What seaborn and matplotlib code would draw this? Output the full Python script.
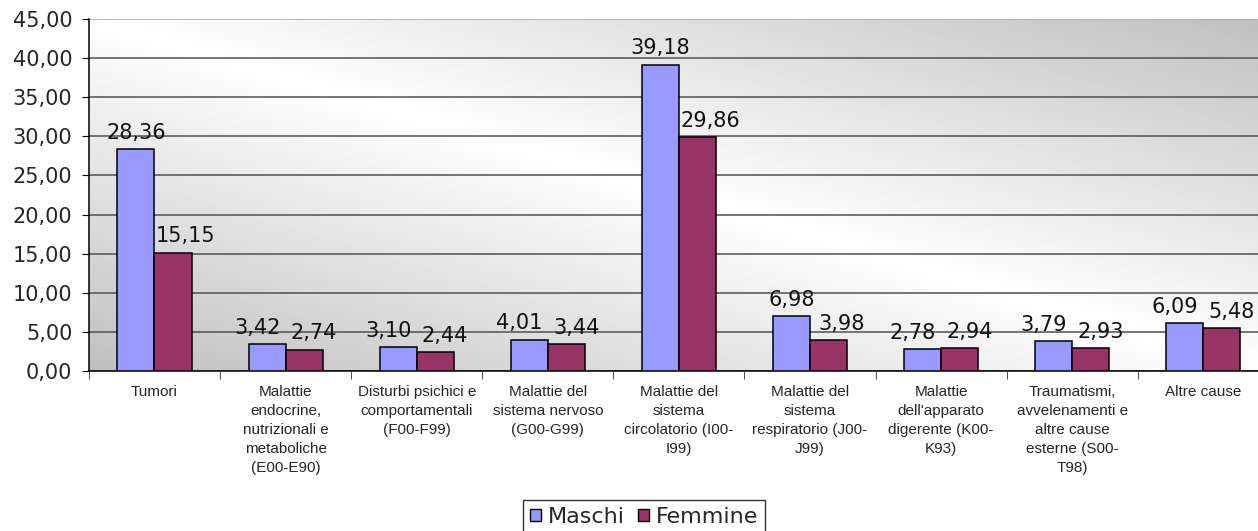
import matplotlib
matplotlib.use("Agg")
import matplotlib.pyplot as plt
import numpy as np
import pandas as pd
import seaborn as sns
from matplotlib.patches import Patch
from matplotlib.ticker import FuncFormatter, FixedLocator

# data
categories = [
    "Tumori",
    "Malattie\nendocrine,\nnutrizionali e\nmetaboliche\n(E00-E90)",
    "Disturbi psichici e\ncomportamentali\n(F00-F99)",
    "Malattie del\nsistema nervoso\n(G00-G99)",
    "Malattie del\nsistema\ncircolatorio (I00-\nI99)",
    "Malattie del\nsistema\nrespiratorio (J00-\nJ99)",
    "Malattie\ndell'apparato\ndigerente (K00-\nK93)",
    "Traumatismi,\navvelenamenti e\naltre cause\nesterne (S00-\nT98)",
    "Altre cause",
]
maschi = [28.36, 3.42, 3.10, 4.01, 39.18, 6.98, 2.78, 3.79, 6.09]
femmine = [15.15, 2.74, 2.44, 3.44, 29.86, 3.98, 2.94, 2.93, 5.48]
series = ["Maschi", "Femmine"]
colors = ["#9999FF", "#993366"]

df = pd.DataFrame({
    "causa": categories * 2,
    "sesso": ["Maschi"] * len(categories) + ["Femmine"] * len(categories),
    "valore": maschi + femmine,
})

sns.set_style("white")
plt.rcParams["font.family"] = ["DejaVu Sans"]

fig = plt.figure(figsize=(12.58, 5.31), dpi=100)
ax = fig.add_axes([0.0707, 0.3013, 1.0087 - 0.0707, 0.9642 - 0.3013])

# grey-white-grey diagonal background
gx, gy = np.meshgrid(np.linspace(0, 1, 300), np.linspace(0, 1, 300))
s = np.abs(gx + gy - 1)
shade = 1 - 0.25 * s
ax.imshow(shade, extent=(0, 1, 0, 1), origin="lower", transform=ax.transAxes,
          cmap="gray", vmin=0, vmax=1, aspect="auto", zorder=0)

sns.barplot(data=df, x="causa", y="valore", hue="sesso", hue_order=series,
            palette=colors, width=0.565, gap=0, edgecolor="black",
            linewidth=1.1, saturation=1, legend=False, ax=ax, zorder=3)

ax.set_xlim(-0.5, len(categories) - 0.5)
ax.set_ylim(0, 45)
ax.set_yticks(np.arange(0, 46, 5))
ax.yaxis.set_major_formatter(FuncFormatter(lambda v, p: f"{v:.2f}".replace(".", ",")))
ax.tick_params(axis="y", labelsize=15, length=5, direction="out", pad=7, color="black", left=True)
ax.grid(axis="y", color="#505050", linewidth=1.1, zorder=1)
ax.set_axisbelow(True)
ax.yaxis.get_gridlines()[-1].set_color("#a8a8a8")

ax.set_xlabel("")
ax.set_ylabel("")
ax.tick_params(axis="x", which="major", length=0, pad=10)
ax.xaxis.set_minor_locator(FixedLocator(np.arange(-0.5, len(categories), 1)))
ax.tick_params(axis="x", which="minor", length=6, direction="out", color="#333333", bottom=True)
for lbl in ax.get_xticklabels():
    lbl.set_fontfamily("Liberation Sans")
    lbl.set_fontsize(11)
    lbl.set_linespacing(1.45)
    lbl.set_ha("center")

for side in ["top", "right"]:
    ax.spines[side].set_visible(False)
for side in ["left", "bottom"]:
    ax.spines[side].set_color("black")
    ax.spines[side].set_linewidth(1.1)

# value labels: Femmine label nudged right, Maschi nudged left when both sit at the same height
fmt = lambda v: f"{v:.2f}".replace(".", ",")
m_bars, f_bars = ax.containers[0], ax.containers[1]
for bm, bf in zip(m_bars, f_bars):
    hm, hf = bm.get_height(), bf.get_height()
    dx_m = -7 if abs(hm - hf) < 1 else 0
    dx_f = 7 if abs(hm - hf) < 1 else 9
    for b, dx in [(bm, dx_m), (bf, dx_f)]:
        ax.annotate(fmt(b.get_height()), (b.get_x() + b.get_width() / 2, b.get_height()),
                    xytext=(dx, 4.5), textcoords="offset points", ha="center", va="bottom",
                    fontsize=15, color="#111111", zorder=5)

handles = [Patch(facecolor=c, edgecolor="black", linewidth=1) for c in colors]
leg = fig.legend(handles, series, loc="lower center", bbox_to_anchor=(0.512, -0.005),
                 ncol=2, fontsize=16, frameon=True, fancybox=False,
                 handlelength=0.5, handleheight=0.5, handletextpad=0.3,
                 columnspacing=0.6, borderpad=0.3, borderaxespad=0)
leg.get_frame().set_edgecolor("black")
leg.get_frame().set_linewidth(1)

fig.savefig("out.png", dpi=100)
